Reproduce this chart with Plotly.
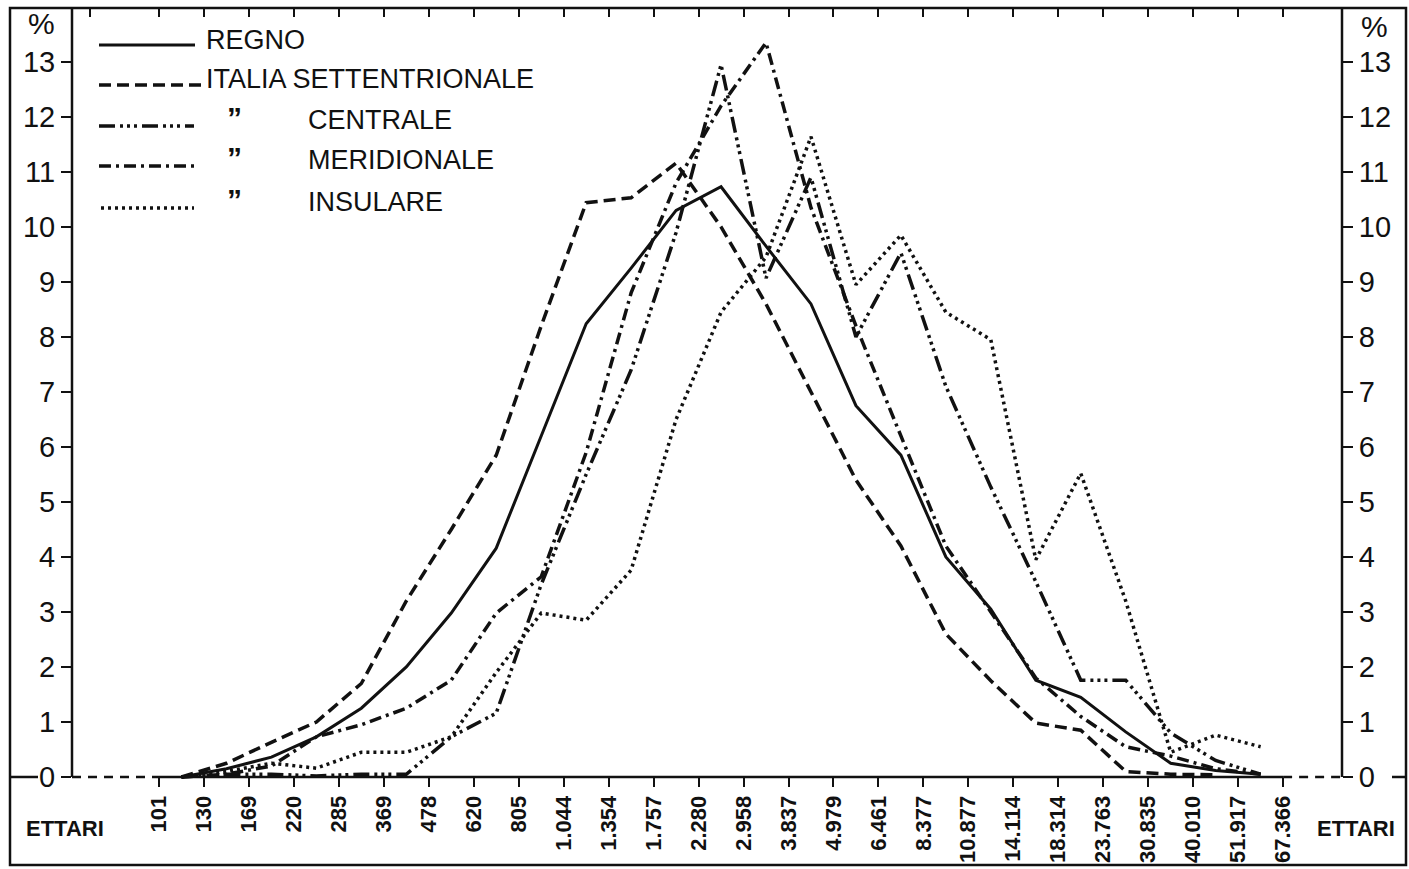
import plotly.graph_objects as go

# ---------------- data ----------------
class_edges = ["101", "130", "169", "220", "285", "369", "478", "620", "805",
               "1.044", "1.354", "1.757", "2.280", "2.958", "3.837", "4.979",
               "6.461", "8.377", "10.877", "14.114", "18.314", "23.763",
               "30.835", "40.010", "51.917", "67.366"]

regno = [0.0, 0.15, 0.36, 0.73, 1.25, 2.0, 2.98, 4.16, 6.2, 8.24, 9.25, 10.3,
         10.73, 9.65, 8.6, 6.75, 5.85, 4.0, 3.05, 1.76, 1.45, 0.82, 0.25, 0.12, 0.05]
settentrionale = [0.0, 0.25, 0.63, 1.0, 1.7, 3.2, 4.5, 5.85, 8.2, 10.44, 10.53, 11.16,
                  10.0, 8.6, 7.0, 5.4, 4.2, 2.6, 1.75, 0.98, 0.85, 0.1, 0.05, 0.04]
centrale = [0.0, 0.05, 0.05, 0.02, 0.05, 0.05, 0.73, 1.16, 3.5, 5.5, 7.4, 9.9,
            12.95, 9.07, 10.9, 8.0, 9.53, 7.1, 5.27, 3.55, 1.76, 1.76, 0.8, 0.3, 0.05]
meridionale = [0.0, 0.05, 0.2, 0.73, 0.95, 1.25, 1.76, 2.98, 3.64, 5.9, 8.8, 10.8,
               12.2, 13.35, 10.35, 8.2, 6.2, 4.2, 3.0, 1.8, 1.1, 0.55, 0.38, 0.15, 0.05]
insulare = [0.0, 0.1, 0.25, 0.16, 0.45, 0.45, 0.73, 1.9, 2.98, 2.85, 3.76, 6.5,
            8.45, 9.45, 11.64, 8.95, 9.85, 8.45, 7.95, 3.95, 5.52, 3.2, 0.45, 0.76, 0.55]

y_ticks = list(range(0, 14))

series_names = ["REGNO", "ITALIA SETTENTRIONALE", "CENTRALE", "MERIDIONALE", "INSULARE"]
series_values = [regno, settentrionale, centrale, meridionale, insulare]

# ---------------- styling ----------------
W, H = 1409, 869
L, R, T, B = 72, 67, 8, 4
PW, PH = W - L - R, H - T - B
FONT = "Liberation Sans"
INK = "#111111"

dash_styles = ["solid", "12px,6px", "16px,5px,3px,4px,3px,4px,3px,5px",
               "12px,5px,3px,5px", "3px,4px"]
widths = [3, 3.5, 3.5, 3.5, 3.5]


def px(x):
    return (x - L) / PW


def py(y):
    return (H - B - y) / PH


X_MIN, X_MAX = -1.935, 26.31
Y_MIN, Y_MAX = -1.6, 13.98

fig = go.Figure()
for name, vals, dash, w in zip(series_names, series_values, dash_styles, widths):
    fig.add_trace(go.Scatter(
        x=[i + 0.5 for i in range(len(vals))], y=vals, mode="lines", name=name,
        line=dict(color=INK, width=w, dash=dash), showlegend=False,
        hoverinfo="skip"))

# helper traces so that secondary axes are drawn
fig.add_trace(go.Scatter(x=[0], y=[None], xaxis="x2", yaxis="y", showlegend=False,
                         hoverinfo="skip"))
fig.add_trace(go.Scatter(x=[0], y=[None], xaxis="x", yaxis="y2", showlegend=False,
                         hoverinfo="skip"))

shapes = []
# vertical axis rules (from the zero line up to the top frame)
for xx in (0, 1):
    shapes.append(dict(type="line", xref="paper", yref="y", x0=xx, x1=xx, y0=0,
                       y1=Y_MAX, line=dict(color=INK, width=2.5)))
# baseline at 0
shapes.append(dict(type="line", xref="x", yref="y", x0=0, x1=len(class_edges) - 1,
                   y0=0, y1=0, line=dict(color=INK, width=2.5)))
shapes.append(dict(type="line", xref="x", yref="y", x0=X_MIN, x1=0, y0=0, y1=0,
                   line=dict(color=INK, width=2.5, dash="9px,7px")))
shapes.append(dict(type="line", xref="x", yref="y", x0=len(class_edges) - 1, x1=X_MAX,
                   y0=0, y1=0, line=dict(color=INK, width=2.5, dash="9px,7px")))
# little rule segments beside the "0" labels outside the axes
shapes.append(dict(type="line", xref="paper", yref="y", x0=px(10), x1=px(38), y0=0, y1=0,
                   line=dict(color=INK, width=2.5)))
shapes.append(dict(type="line", xref="paper", yref="y", x0=px(1392), x1=px(1406), y0=0, y1=0,
                   line=dict(color=INK, width=2.5)))
# outer frame
shapes.append(dict(type="rect", xref="paper", yref="paper", x0=px(10), x1=px(1406),
                   y0=py(865), y1=py(8), line=dict(color=INK, width=2.5)))

# legend samples
leg_y = [45, 85, 126, 166, 208]
leg_x = [(99, 195), (99, 205), (99, 194), (99, 194), (101, 194)]
for (x0, x1), yy, dash, w in zip(leg_x, leg_y, dash_styles, widths):
    shapes.append(dict(type="line", xref="paper", yref="paper", x0=px(x0), x1=px(x1),
                       y0=py(yy), y1=py(yy), line=dict(color=INK, width=w, dash=dash)))

annotations = []


def txt(text, x, y, size, xanchor="left", bold=False):
    annotations.append(dict(text=("<b>%s</b>" % text) if bold else text,
                            x=px(x), y=py(y), xref="paper", yref="paper",
                            xanchor=xanchor, yanchor="middle", showarrow=False,
                            font=dict(family=FONT, size=size, color=INK)))


txt(series_names[0], 204, 40, 27)
txt(series_names[1], 204, 79, 27)
for yy, nm in zip([120, 160, 202], series_names[2:]):
    txt("\u201d", 234, yy - 3, 30, xanchor="center", bold=True)
    txt(nm, 306, yy, 27)
txt("%", 41, 24, 30, xanchor="center")
txt("%", 1374, 26, 30, xanchor="center")
txt("ETTARI", 65, 828, 22, xanchor="center", bold=True)
txt("ETTARI", 1356, 828, 22, xanchor="center", bold=True)

top_ticks = [-1.53] + list(range(len(class_edges)))

fig.update_layout(
    width=W, height=H,
    margin=dict(l=L, r=R, t=T, b=B, pad=0),
    paper_bgcolor="white", plot_bgcolor="white",
    font=dict(family=FONT, color=INK),
    xaxis=dict(range=[X_MIN, X_MAX], tickvals=list(range(len(class_edges))),
               ticktext=["<b>%s</b>" % t for t in class_edges], tickangle=-90,
               ticks="outside", ticklen=9,
               tickwidth=2, tickcolor=INK, showline=False, showgrid=False,
               zeroline=False, anchor="free", position=py(777),
               tickfont=dict(size=22, family=FONT, color=INK)),
    xaxis2=dict(range=[X_MIN, X_MAX], overlaying="x", side="top", anchor="y",
                tickvals=top_ticks, ticks="inside", ticklen=9, tickwidth=2,
                tickcolor=INK, showticklabels=False, showline=False,
                showgrid=False, zeroline=False),
    yaxis=dict(range=[Y_MIN, Y_MAX], tickvals=y_ticks, ticks="outside", ticklen=10,
               tickwidth=2, tickcolor=INK, showline=False,
               showgrid=False, zeroline=False,
               tickfont=dict(size=29, family=FONT, color=INK)),
    yaxis2=dict(range=[Y_MIN, Y_MAX], overlaying="y", side="right", anchor="x",
                tickvals=y_ticks, ticks="outside", ticklen=10, tickwidth=2,
                tickcolor=INK, showline=False,
                showgrid=False, zeroline=False,
                tickfont=dict(size=29, family=FONT, color=INK)),
    shapes=shapes, annotations=annotations,
)

fig.write_html("out.html", config={"displayModeBar": False},
               post_script="document.body.style.margin='0';"
                           "document.body.style.overflow='hidden';")
